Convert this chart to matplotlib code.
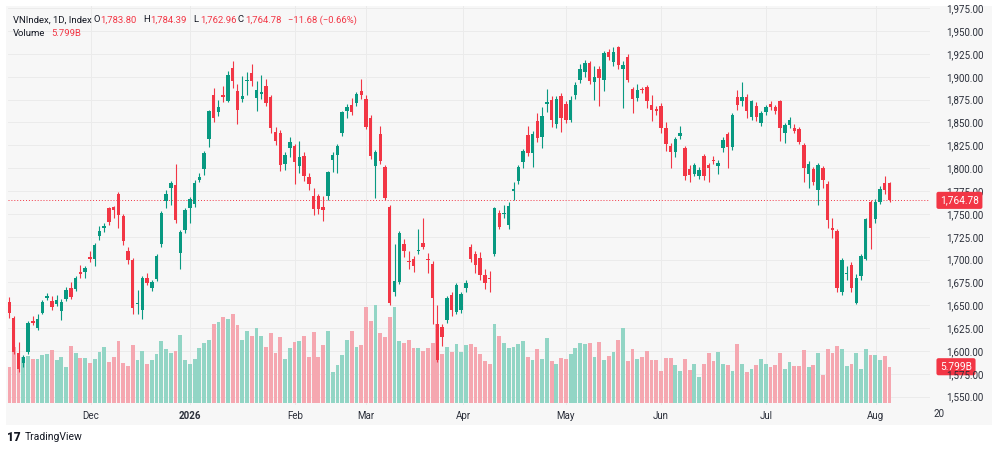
import matplotlib
matplotlib.use("Agg")
import matplotlib.pyplot as plt
import matplotlib.transforms as mtransforms
from matplotlib.patches import Rectangle

# daily VNIndex candles, oldest first
opens = [1654, 1636, 1598, 1587, 1599, 1633, 1625, 1642, 1658, 1655,
         1651, 1644, 1657, 1669, 1668, 1686, 1686, 1703, 1701, 1726,
         1735, 1756, 1758, 1772, 1748, 1709, 1700, 1651, 1645, 1680,
         1669, 1679, 1717, 1764, 1778, 1782, 1707, 1732, 1756, 1761,
         1787, 1799, 1832, 1880, 1861, 1880, 1874, 1910, 1884, 1876,
         1895, 1904, 1877, 1881, 1890, 1878, 1840, 1839, 1805, 1822,
         1824, 1802, 1813, 1790, 1769, 1770, 1758, 1770, 1809, 1814,
         1838, 1862, 1869, 1871, 1884, 1876, 1855, 1802, 1837, 1801,
         1758, 1664, 1676, 1717, 1698, 1701, 1709, 1718, 1701, 1695,
         1630, 1626, 1634, 1661, 1643, 1645, 1669, 1714, 1706, 1702,
         1683, 1680, 1706, 1751, 1750, 1738, 1775, 1786, 1807, 1836,
         1817, 1852, 1834, 1870, 1875, 1848, 1879, 1870, 1853, 1880,
         1896, 1905, 1915, 1894, 1909, 1896, 1927, 1916, 1932, 1909,
         1922, 1887, 1877, 1887, 1889, 1869, 1864, 1868, 1844, 1824,
         1818, 1835, 1822, 1799, 1794, 1791, 1813, 1803, 1809, 1802,
         1822, 1837, 1823, 1878, 1873, 1878, 1856, 1868, 1849, 1861,
         1870, 1867, 1873, 1839, 1847, 1844, 1843, 1825, 1794, 1799,
         1776, 1800, 1783, 1734, 1731, 1665, 1684, 1694, 1653, 1682,
         1701, 1763, 1744, 1763, 1784, 1783.80]
highs = [1659, 1638, 1610, 1596, 1633, 1638, 1640, 1656, 1663, 1660,
         1661, 1657, 1670, 1675, 1682, 1694, 1693, 1709, 1718, 1737,
         1740, 1758, 1759, 1774, 1750, 1714, 1702, 1667, 1682, 1685,
         1678, 1706, 1753, 1776, 1786, 1805, 1732, 1756, 1768, 1787,
         1795, 1819, 1864, 1888, 1875, 1890, 1906, 1917, 1892, 1901,
         1905, 1914, 1895, 1902, 1897, 1880, 1845, 1842, 1818, 1834,
         1826, 1830, 1818, 1795, 1778, 1772, 1770, 1797, 1818, 1826,
         1863, 1870, 1877, 1883, 1898, 1880, 1858, 1820, 1846, 1803,
         1760, 1717, 1731, 1722, 1709, 1704, 1733, 1745, 1707, 1698,
         1650, 1629, 1660, 1664, 1674, 1664, 1678, 1717, 1709, 1708,
         1690, 1688, 1758, 1754, 1760, 1763, 1785, 1803, 1821, 1846,
         1841, 1860, 1867, 1887, 1879, 1879, 1882, 1873, 1879, 1894,
         1914, 1918, 1917, 1912, 1912, 1928, 1930, 1932, 1934, 1917,
         1925, 1889, 1892, 1889, 1891, 1880, 1868, 1871, 1850, 1827,
         1834, 1846, 1824, 1803, 1806, 1801, 1815, 1806, 1813, 1809,
         1834, 1840, 1860, 1886, 1894, 1881, 1875, 1872, 1862, 1869,
         1873, 1869, 1875, 1849, 1856, 1848, 1845, 1827, 1808, 1801,
         1806, 1802, 1786, 1746, 1733, 1702, 1693, 1697, 1684, 1706,
         1746, 1765, 1766, 1780, 1791, 1784.39]
lows = [1636, 1597, 1577, 1583, 1597, 1628, 1623, 1640, 1656, 1645,
        1649, 1634, 1655, 1657, 1666, 1680, 1680, 1697, 1693, 1721,
        1730, 1738, 1746, 1735, 1716, 1695, 1640, 1640, 1635, 1672,
        1666, 1677, 1714, 1756, 1760, 1740, 1690, 1729, 1740, 1758,
        1785, 1793, 1823, 1851, 1857, 1872, 1872, 1888, 1848, 1872,
        1880, 1890, 1862, 1876, 1868, 1838, 1825, 1797, 1798, 1812,
        1783, 1795, 1786, 1776, 1749, 1750, 1742, 1765, 1796, 1795,
        1835, 1855, 1858, 1868, 1876, 1843, 1810, 1767, 1805, 1765,
        1650, 1660, 1673, 1703, 1690, 1686, 1706, 1712, 1685, 1630,
        1588, 1605, 1631, 1638, 1640, 1641, 1665, 1697, 1685, 1678,
        1668, 1665, 1704, 1733, 1745, 1733, 1765, 1783, 1800, 1813,
        1801, 1829, 1822, 1861, 1845, 1844, 1840, 1849, 1850, 1876,
        1893, 1900, 1892, 1875, 1868, 1884, 1918, 1912, 1908, 1866,
        1894, 1860, 1874, 1882, 1866, 1852, 1858, 1838, 1819, 1800,
        1812, 1832, 1787, 1785, 1791, 1788, 1787, 1785, 1805, 1794,
        1818, 1800, 1820, 1864, 1868, 1855, 1853, 1852, 1846, 1858,
        1864, 1859, 1830, 1828, 1844, 1838, 1826, 1785, 1778, 1782,
        1760, 1778, 1734, 1724, 1665, 1661, 1678, 1664, 1651, 1678,
        1699, 1712, 1740, 1761, 1772, 1762.96]
closes = [1641, 1599, 1580, 1593, 1631, 1631, 1635, 1654, 1660, 1648,
          1656, 1654, 1667, 1659, 1680, 1684, 1691, 1701, 1716, 1731,
          1737, 1741, 1754, 1749, 1720, 1699, 1647, 1653, 1680, 1674,
          1676, 1704, 1751, 1772, 1784, 1743, 1730, 1754, 1766, 1784,
          1790, 1817, 1862, 1855, 1867, 1878, 1902, 1895, 1864, 1879,
          1896, 1895, 1886, 1883, 1871, 1844, 1830, 1803, 1814, 1829,
          1807, 1812, 1791, 1783, 1755, 1755, 1754, 1796, 1814, 1824,
          1861, 1867, 1861, 1881, 1880, 1845, 1813, 1818, 1808, 1767,
          1652, 1677, 1729, 1709, 1697, 1693, 1710, 1714, 1699, 1658,
          1590, 1615, 1658, 1645, 1672, 1662, 1674, 1701, 1694, 1683,
          1674, 1679, 1756, 1736, 1751, 1759, 1777, 1801, 1819, 1817,
          1837, 1833, 1857, 1872, 1853, 1876, 1855, 1853, 1875, 1891,
          1909, 1915, 1895, 1900, 1899, 1926, 1922, 1927, 1913, 1913,
          1896, 1876, 1886, 1885, 1874, 1864, 1863, 1844, 1826, 1818,
          1832, 1839, 1791, 1793, 1803, 1798, 1791, 1800, 1808, 1806,
          1831, 1823, 1858, 1869, 1878, 1863, 1873, 1856, 1860, 1867,
          1867, 1862, 1844, 1847, 1853, 1841, 1829, 1800, 1805, 1785,
          1803, 1787, 1743, 1732, 1669, 1699, 1685, 1669, 1680, 1704,
          1744, 1735, 1763, 1777, 1776, 1764.78]
# volume in billions of shares
volumes = [5.8, 9.0, 8.0, 7.3, 7.5, 7.0, 7.0, 7.7, 7.8, 8.4,
           6.9, 7.3, 5.8, 9.1, 8.0, 7.2, 7.2, 6.4, 7.0, 8.2,
           9.0, 6.6, 7.4, 9.8, 6.4, 5.9, 9.2, 6.9, 8.3, 6.2,
           6.9, 7.8, 9.8, 8.6, 8.0, 8.3, 10.8, 6.8, 6.3, 7.0,
           8.7, 9.5, 10.0, 12.6, 12.9, 13.7, 13.4, 14.2, 12.4, 10.1,
           11.5, 10.7, 12.0, 10.6, 8.9, 11.1, 7.9, 10.5, 7.1, 8.8,
           9.7, 9.8, 10.6, 7.4, 11.3, 7.3, 9.2, 11.5, 5.0, 6.1,
           7.6, 10.0, 11.5, 8.9, 9.2, 15.3, 13.0, 15.6, 11.2, 10.5,
           13.7, 15.3, 9.9, 9.5, 10.1, 8.8, 8.8, 8.3, 8.8, 9.5,
           12.5, 7.8, 9.0, 8.1, 9.4, 8.2, 9.2, 9.4, 8.9, 7.8,
           6.7, 6.2, 12.5, 10.7, 9.6, 8.7, 8.9, 9.4, 9.9, 7.4,
           6.9, 8.6, 7.1, 10.3, 6.7, 6.3, 7.2, 7.0, 7.8, 8.7,
           9.6, 9.4, 9.6, 7.4, 9.7, 6.8, 7.5, 8.2, 10.0, 12.0,
           6.7, 8.6, 7.0, 7.3, 8.3, 6.9, 6.9, 5.1, 7.2, 7.2,
           6.1, 5.1, 7.1, 5.3, 6.3, 4.1, 6.3, 7.9, 6.7, 8.1,
           6.3, 6.1, 5.2, 9.4, 6.3, 4.9, 5.4, 6.1, 7.0, 6.2,
           5.7, 6.1, 8.0, 5.5, 6.6, 5.9, 5.9, 8.4, 5.7, 6.1,
           7.9, 4.5, 8.6, 7.9, 9.1, 8.6, 5.9, 6.3, 8.0, 5.5,
           8.6, 7.7, 7.7, 6.9, 7.5, 5.799]

month_pos = [17.2, 38.0, 60.1, 75.0, 95.4, 117.0, 137.0, 159.0, 182.1]
month_labels = ['Dec', '2026', 'Feb', 'Mar', 'Apr', 'May', 'Jun', 'Jul', 'Aug']
price_ticks = list(range(1550, 1976, 25))
last_price = 1764.78
last_volume = 5.799

UP = '#089981'
DOWN = '#f23645'
UP_VOL = '#92d5c5'
DOWN_VOL = '#f5a7b0'
TEXT = '#131722'

plt.rcParams['font.family'] = ['Roboto', 'DejaVu Sans']

W, H = 1000, 451
fig = plt.figure(figsize=(10, 4.51), dpi=100)
fig.patch.set_facecolor('white')


def box(x0, y0, x1, y1):
    return [x0 / W, 1 - y1 / H, (x1 - x0) / W, (y1 - y0) / H]


def ftext(xp, yp, s, **kw):
    kw.setdefault('va', 'center')
    kw.setdefault('ha', 'left')
    fig.text(xp / W, 1 - yp / H, s, **kw)


fig.patches.append(Rectangle((6 / W, 1 - 425 / H), 986 / W, 419 / H,
                             transform=fig.transFigure, facecolor='#f7f7f7',
                             edgecolor='none', zorder=0))

n = len(closes)
xs = list(range(n))
up = [c >= o for o, c in zip(opens, closes)]

# volume pane (below the candles)
vax = fig.add_axes(box(8, 6, 930, 405), zorder=1)
vax.set_facecolor('none')
ax = fig.add_axes(box(8, 6, 930, 405), zorder=2)
ax.set_facecolor('none')

ax.set_xlim(-0.21, 193.5)
vax.set_xlim(-0.21, 193.5)
ax.set_ylim(1540.9, 1977.4)
vax.set_ylim(-0.27, 63.0)

# grid behind everything
grid_tr = mtransforms.blended_transform_factory(vax.transAxes, ax.transData)
for p in price_ticks:
    vax.plot([0, 1], [p, p], transform=grid_tr, color='#ebebeb', lw=0.7, zorder=0)
for m in month_pos:
    vax.axvline(m, color='#ebebeb', lw=0.7, zorder=0)

vax.bar(xs, volumes, width=0.8, color=[UP_VOL if u else DOWN_VOL for u in up],
        zorder=2)

cols = [UP if u else DOWN for u in up]
ax.vlines(xs, lows, highs, colors=cols, linewidth=0.8, zorder=3)
bottoms = [min(o, c) for o, c in zip(opens, closes)]
heights = [max(abs(c - o), 1.2) for o, c in zip(opens, closes)]
ax.bar(xs, heights, bottom=bottoms, width=0.72, color=cols, zorder=4)

ax.axhline(last_price, color=DOWN, lw=0.7, linestyle=(0, (1, 2)), zorder=2)

for a in (ax, vax):
    for s in a.spines.values():
        s.set_visible(False)
vax.set_xticks([])
vax.set_yticks([])

ax.yaxis.tick_right()
ax.set_yticks(price_ticks)
ax.set_yticklabels([f'{p:,.2f}' for p in price_ticks])
ax.tick_params(axis='y', length=0, pad=11.5, labelsize=7, labelcolor='#2a2e39')
ax.set_xticks(month_pos)
ax.set_xticklabels(month_labels)
ax.tick_params(axis='x', length=0, pad=4.5, labelsize=7, labelcolor='#2a2e39')
ax.get_xticklabels()[1].set_fontweight('bold')
ftext(933, 414, '20', fontsize=7, color='#2a2e39')

# last value tags on the right scale
tag_tr = mtransforms.blended_transform_factory(fig.transFigure, ax.transData)
ax.text(940 / W, last_price, f'{last_price:,.2f}', transform=tag_tr, va='center',
        ha='left', fontsize=7.3, color='white',
        bbox=dict(boxstyle='round,pad=0.35,rounding_size=0.2', fc=DOWN, ec='none'))
vtag_tr = mtransforms.blended_transform_factory(fig.transFigure, vax.transData)
vax.text(940 / W, last_volume, f'{last_volume}B', transform=vtag_tr, va='center',
         ha='left', fontsize=7.3, color='white',
         bbox=dict(boxstyle='round,pad=0.35,rounding_size=0.2', fc=DOWN, ec='none'))

# legend header
hs = 6.8
ftext(13, 20, 'VNIndex, 1D, Index', fontsize=hs, color=TEXT)
for lx, letter, val in [(93, 'O', '1,783.80'), (143, 'H', '1,784.39'),
                        (193, 'L', '1,762.96'), (238, 'C', '1,764.78')]:
    ftext(lx, 20, letter, fontsize=hs, color=TEXT)
    ftext(lx + 7.5, 20, val, fontsize=hs, color=DOWN)
ftext(288, 20, '\u221211.68 (\u22120.66%)', fontsize=hs, color=DOWN)
ftext(13, 33, 'Volume', fontsize=hs, color=TEXT)
ftext(51, 33, '5.799B', fontsize=hs, color=DOWN)

# footer
ftext(7, 437.5, '17', fontsize=8.5, fontweight='heavy', color=TEXT)
ftext(25, 437.5, 'TradingView', fontsize=7.5, color=TEXT)

fig.savefig('out.png', dpi=100, facecolor='white')
